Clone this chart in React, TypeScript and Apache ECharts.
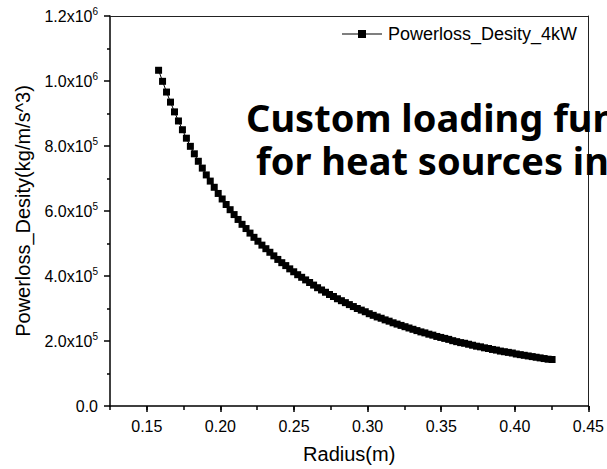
import React, { useEffect, useRef } from "react";
import * as echarts from "echarts";

const radius = [
  0.158, 0.1607, 0.1634, 0.1661, 0.1688, 0.1715, 0.1742, 0.1769, 0.1796, 0.1823,
  0.185, 0.1877, 0.1904, 0.1931, 0.1958, 0.1985, 0.2012, 0.2039, 0.2066, 0.2093,
  0.212, 0.2147, 0.2174, 0.2201, 0.2228, 0.2255, 0.2282, 0.2309, 0.2336, 0.2363,
  0.239, 0.2417, 0.2444, 0.2471, 0.2498, 0.2525, 0.2552, 0.2579, 0.2606, 0.2633,
  0.266, 0.2687, 0.2714, 0.2741, 0.2768, 0.2795, 0.2822, 0.2849, 0.2876, 0.2903,
  0.293, 0.2957, 0.2984, 0.3011, 0.3038, 0.3065, 0.3092, 0.3119, 0.3146, 0.3173,
  0.32, 0.3227, 0.3254, 0.3281, 0.3308, 0.3335, 0.3362, 0.3389, 0.3416, 0.3443,
  0.347, 0.3497, 0.3524, 0.3551, 0.3578, 0.3605, 0.3632, 0.3659, 0.3686, 0.3713,
  0.374, 0.3767, 0.3794, 0.3821, 0.3848, 0.3875, 0.3902, 0.3929, 0.3956, 0.3983,
  0.401, 0.4037, 0.4064, 0.4091, 0.4118, 0.4145, 0.4172, 0.4199, 0.4226, 0.4253,
];

const powerlossDensity = [
  1033000, 999000, 966000, 935000, 905000, 877000, 850000, 824000, 799000, 776000,
  753000, 732000, 711000, 692000, 673000, 654000, 637000, 620000, 604000, 589000,
  574000, 559000, 546000, 532000, 519000, 507000, 495000, 484000, 473000, 462000,
  451000, 441000, 432000, 422000, 413000, 404000, 396000, 388000, 380000, 372000,
  364000, 357000, 350000, 343000, 337000, 330000, 324000, 318000, 312000, 306000,
  300000, 295000, 290000, 284000, 279000, 274000, 270000, 265000, 261000, 256000,
  252000, 248000, 244000, 240000, 236000, 232000, 228000, 225000, 221000, 218000,
  214000, 211000, 208000, 205000, 201000, 198000, 195000, 193000, 190000, 187000,
  184000, 182000, 179000, 177000, 174000, 172000, 169000, 167000, 165000, 163000,
  160000, 158000, 156000, 154000, 152000, 150000, 148000, 146000, 144000, 143000,
];

const xMajorTicks = [0.15, 0.2, 0.25, 0.3, 0.35, 0.4, 0.45];
const seriesName = "Powerloss_Desity_4kW";
const xName = "Radius(m)";
const yName = "Powerloss_Desity(kg/m/s^3)";
const overlayLines = ["Custom loading function", "for heat sources in"];

const FONT = "'Liberation Sans', Arial, sans-serif";

export default function App() {
  const ref = useRef<HTMLDivElement>(null);
  useEffect(() => {
    if (!ref.current) return;
    const chart = echarts.init(ref.current, null, { renderer: "svg" });
    const data = radius.map((r, i) => [r, powerlossDensity[i]]);
    const grid = { left: 110, top: 16, right: 12, bottom: 62 };
    const xMin = 0.125;
    const xMax = 0.45;
    chart.setOption({
      animation: false,
      backgroundColor: "#fff",
      grid,
      xAxis: [
        {
          type: "value",
          position: "bottom",
          min: xMin,
          max: xMax,
          interval: 0.025,
          splitLine: { show: false },
          axisLine: { show: true, onZero: false, lineStyle: { color: "#000", width: 1.5 } },
          axisTick: { show: true, inside: false, length: 4, lineStyle: { color: "#000", width: 1.5 } },
          axisLabel: {
            margin: 12,
            fontSize: 16,
            fontFamily: FONT,
            color: "#000",
            showMinLabel: true,
            showMaxLabel: true,
            formatter: (v: number) => {
              const k = v * 20;
              return Math.abs(Math.round(k) - k) < 1e-6 ? v.toFixed(2) : "";
            },
          },
          name: xName,
          nameLocation: "middle",
          nameGap: 38,
          nameTextStyle: { fontSize: 20, fontFamily: FONT, color: "#000" },
        },
        {
          type: "value",
          position: "bottom",
          min: xMin,
          max: xMax,
          splitLine: { show: false },
          axisLine: { show: false, onZero: false },
          axisTick: {
            show: true,
            inside: false,
            length: 6,
            customValues: xMajorTicks,
            lineStyle: { color: "#000", width: 1.5 },
          },
          axisLabel: { show: false },
        },
        {
          type: "value",
          position: "top",
          min: xMin,
          max: xMax,
          splitLine: { show: false },
          axisLine: { show: true, onZero: false, lineStyle: { color: "#222", width: 1 } },
          axisTick: { show: false },
          axisLabel: { show: false },
        },
      ],
      yAxis: [
        {
          type: "value",
          position: "left",
          min: 0,
          max: 1200000,
          interval: 200000,
          splitLine: { show: false },
          axisLine: { show: true, onZero: false, lineStyle: { color: "#000", width: 1.5 } },
          axisTick: { show: true, inside: false, length: 6, lineStyle: { color: "#000", width: 1.5 } },
          minorTick: { show: true, splitNumber: 2, length: 3, lineStyle: { color: "#000", width: 1.5 } },
          axisLabel: {
            margin: 12,
            color: "#000",
            formatter: (v: number) => {
              if (v === 0) return "{b|0.0}";
              const e = Math.floor(Math.log10(v) + 1e-9);
              const m = v / Math.pow(10, e);
              return `{b|${m.toFixed(1)}x10}{s|${e}}`;
            },
            rich: {
              b: { fontSize: 16, fontFamily: FONT, color: "#000", lineHeight: 20 },
              s: { fontSize: 10, fontFamily: FONT, color: "#000", verticalAlign: "top", lineHeight: 12 },
            },
          },
          name: yName,
          nameLocation: "middle",
          nameGap: 75,
          nameRotate: 90,
          nameTextStyle: { fontSize: 20, fontFamily: FONT, color: "#000" },
        },
        {
          type: "value",
          position: "right",
          min: 0,
          max: 1200000,
          splitLine: { show: false },
          axisLine: { show: true, onZero: false, lineStyle: { color: "#222", width: 1 } },
          axisTick: { show: false },
          axisLabel: { show: false },
        },
      ],
      series: [
        {
          name: seriesName,
          type: "line",
          xAxisIndex: 0,
          yAxisIndex: 0,
          data,
          symbol: "rect",
          symbolSize: 7,
          showSymbol: true,
          showAllSymbol: true,
          itemStyle: { color: "#000" },
          lineStyle: { color: "#000", width: 1 },
        },
      ],
      graphic: [
        {
          type: "line",
          shape: { x1: 342, y1: 34, x2: 382, y2: 34 },
          style: { stroke: "#000", lineWidth: 1.2 },
        },
        {
          type: "rect",
          shape: { x: 358, y: 30, width: 8, height: 8 },
          style: { fill: "#000" },
        },
        {
          type: "text",
          x: 388,
          y: 34,
          style: {
            text: seriesName,
            fontSize: 18,
            fontFamily: FONT,
            fill: "#000",
            verticalAlign: "middle",
            align: "left",
          },
        },
        {
          type: "text",
          x: 246,
          y: 117,
          z: 100,
          style: {
            text: overlayLines[0],
            fontSize: 38,
            fontWeight: "bold",
            fontFamily: "'Noto Sans', 'Open Sans', sans-serif",
            fill: "#000",
            verticalAlign: "middle",
            align: "left",
          },
        },
        {
          type: "text",
          x: 256,
          y: 160,
          z: 100,
          style: {
            text: overlayLines[1],
            fontSize: 38,
            fontWeight: "bold",
            fontFamily: "'Noto Sans', 'Open Sans', sans-serif",
            fill: "#000",
            verticalAlign: "middle",
            align: "left",
          },
        },
      ],
    });
    return () => chart.dispose();
  }, []);
  return (
    <div
      ref={ref}
      style={{ position: "fixed", left: 0, top: 0, width: 607, height: 469, background: "#fff" }}
    />
  );
}
